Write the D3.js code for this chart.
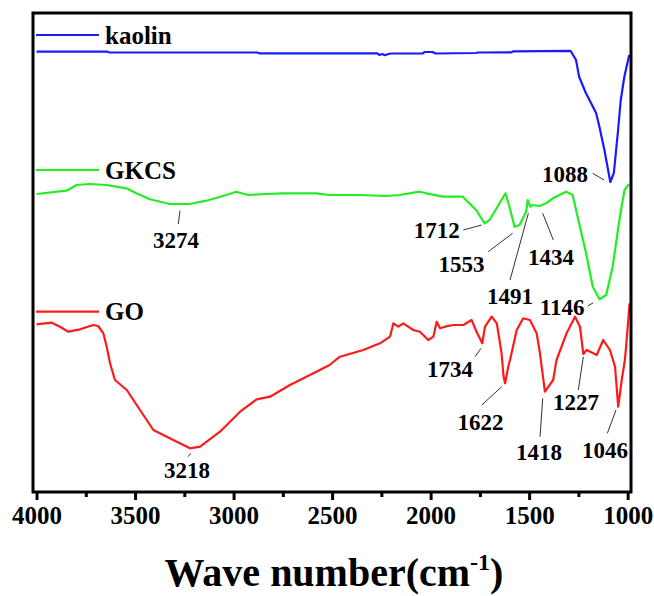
<!DOCTYPE html>
<html>
<head>
<meta charset="utf-8">
<script src="https://cdn.jsdelivr.net/npm/d3@7"></script>
<style>
  body { margin: 0; background: #fff; }
  svg text { font-family: "Times New Roman", "Liberation Serif", serif; font-weight: bold; }
</style>
</head>
<body>
<script>
// FTIR spectra : kaolin / GKCS / GO
var seriesNames = ['kaolin', 'GKCS', 'GO'];
var seriesColors = ['#1a1aff', '#22ee22', '#ff1a1a'];

var kaolinWave = [4000, 3640, 3630, 2880, 2870, 2270, 2260, 2245, 2232, 2215, 2200, 2040, 2030, 1990, 1975, 1770, 1760, 1590, 1580, 1290,
  1262, 1246, 1212, 1160, 1143, 1118, 1088, 1070, 1050, 1035, 1017, 992];
var kaolinT = [44.03, 44.03, 43.95, 43.95, 43.87, 43.87, 43.7, 43.8, 43.68, 43.8, 43.85, 43.87, 44.0, 44.0, 43.85, 43.9, 43.95, 43.97, 44.07, 44.12,
  43.2, 41.5, 39.9, 37.9, 36.5, 34.2, 31.0, 31.9, 35.9, 39.2, 41.5, 43.7];

var gkcsWave = [4000, 3848, 3797, 3730, 3645, 3544, 3493, 3425, 3324, 3223, 3138, 3037, 2986, 2927, 2834, 2749, 2580, 2513, 2361, 2225,
  2158, 2056, 2022, 1938, 1837, 1769, 1726, 1701, 1650, 1620, 1600, 1574, 1549, 1515, 1507, 1495, 1482, 1448, 1414, 1380,
  1312, 1279, 1254, 1211, 1177, 1143, 1109, 1076, 1042, 1016, 992];
var gkcsT = [29.8, 30.13, 30.7, 30.8, 30.7, 30.37, 29.87, 29.27, 28.8, 28.8, 29.13, 29.7, 30.03, 29.7, 29.8, 29.87, 29.87, 29.7, 29.7, 29.6,
  29.7, 30.03, 29.87, 29.53, 29.53, 28.2, 26.87, 27.2, 28.87, 29.87, 28.53, 26.53, 26.7, 28.03, 29.2, 28.53, 28.7, 28.6, 28.87, 29.37,
  30.03, 29.7, 27.53, 23.87, 20.53, 19.27, 19.7, 22.53, 27.2, 30.2, 30.8];

var goWave = [4000, 3923, 3881, 3839, 3779, 3712, 3687, 3661, 3644, 3627, 3602, 3542, 3475, 3407, 3306, 3221, 3170, 3069, 2967, 2883,
  2815, 2714, 2595, 2513, 2460, 2342, 2257, 2206, 2189, 2164, 2139, 2088, 2054, 2012, 1986, 1969, 1952, 1927, 1885, 1834,
  1792, 1767, 1738, 1724, 1690, 1664, 1640, 1630, 1622, 1606, 1597, 1563, 1530, 1496, 1462, 1445, 1420, 1378, 1361, 1310,
  1267, 1242, 1225, 1208, 1157, 1124, 1090, 1064, 1048, 1030, 1014, 1005, 990];
var goT = [16.77, 16.93, 16.53, 16.03, 16.27, 16.7, 16.6, 15.87, 14.53, 12.87, 11.2, 10.2, 8.2, 6.2, 5.2, 4.37, 4.53, 6.03, 8.03, 9.27,
  9.53, 10.7, 11.87, 12.7, 13.53, 14.2, 14.87, 15.53, 16.87, 16.53, 16.87, 16.2, 16.03, 15.2, 15.53, 17.03, 16.37, 16.53, 16.7, 16.7,
  17.2, 16.03, 14.87, 16.53, 17.53, 16.87, 13.9, 11.6, 10.87, 12.53, 13.2, 16.2, 17.37, 17.2, 15.87, 13.87, 10.03, 11.2, 13.2, 15.87,
  17.53, 16.53, 13.8, 14.2, 13.7, 15.2, 14.2, 12.53, 8.53, 11.2, 13.2, 15.2, 18.87];

var xTicks = [4000, 3500, 3000, 2500, 2000, 1500, 1000];
var xMinorTicks = [3750, 3250, 2750, 2250, 1750, 1250];

// peak marks: label, wave number and value where the leader touches the curve
var peakLabels = ['1088', '3274', '1712', '1553', '1434', '1491', '1146', '1734', '1622', '1418', '1227', '1046', '3218'];
var peakWave = [1120, 3272, 1741, 1584, 1431, 1504, 1174, 1744, 1639, 1431, 1225, 1059, 3218];
var peakT = [31.2, 28.13, 26.7, 25.87, 27.87, 27.87, 18.93, 14.37, 10.53, 9.37, 13.53, 8.2, 3.87];

// layout of the peak marks (pixel offsets from the tip): leader start, label centre
var peakLayout = [
  [-11.3, -6.7, -39, -6], [-1.7, 13.3, -4, 29.3], [-18.4, 5, -45, 5], [-24.4, 18.4, -51, 30.7],
  [10.6, 26.7, 8.3, 43.7], [-18.3, 66.7, -18.3, 82.7], [-5.6, 3.3, -31.3, 4.3], [-6, 8.4, -31, 20.7],
  [-20, 18.3, -21.2, 34.8], [-2.7, 38.4, -3.7, 53.7], [-5, 33.3, -7.3, 45.3], [-8.7, 23.3, -11, 40],
  [-2.4, 3.4, -3.7, 16.7]
];
var legendY = [35, 170, 311.7];

var svgWidth = 654, svgHeight = 596;
var plotLeft = 33, plotRight = 631, plotTop = 13, plotBottom = 492;

var svg = d3.select('body').append('svg').attr('width', svgWidth).attr('height', svgHeight);

var x = d3.scaleLinear().domain([4018, 983]).range([plotLeft, plotRight]);
var y = d3.scaleLinear().domain([0, 48]).range([plotBottom, plotTop - 1]);

var line = d3.line()
  .x(function (d) { return x(d[0]); })
  .y(function (d) { return y(d[1]); });

var series = [
  d3.zip(kaolinWave, kaolinT),
  d3.zip(gkcsWave, gkcsT),
  d3.zip(goWave, goT)
];

svg.selectAll('path.spec')
  .data(series)
  .enter()
  .append('path')
  .attr('class', 'spec')
  .attr('d', line)
  .attr('fill', 'none')
  .attr('stroke', function (d, i) { return seriesColors[i]; })
  .attr('stroke-width', 2.2)
  .attr('stroke-linejoin', 'round');

// legend
seriesNames.forEach(function (name, i) {
  svg.append('line')
    .attr('x1', 36).attr('x2', 99)
    .attr('y1', legendY[i]).attr('y2', legendY[i])
    .attr('stroke', seriesColors[i]).attr('stroke-width', 2.2);
  svg.append('text')
    .attr('x', 105).attr('y', legendY[i])
    .attr('dy', '0.35em')
    .attr('font-size', 25)
    .text(name);
});

// peak annotations
peakLabels.forEach(function (lab, i) {
  var tx = x(peakWave[i]), ty = y(peakT[i]);
  var L = peakLayout[i];
  svg.append('line')
    .attr('x1', tx + L[0]).attr('y1', ty + L[1])
    .attr('x2', tx).attr('y2', ty)
    .attr('stroke', '#333').attr('stroke-width', 1);
  svg.append('text')
    .attr('x', tx + L[2]).attr('y', ty + L[3])
    .attr('dy', '0.35em')
    .attr('text-anchor', 'middle')
    .attr('font-size', 23)
    .text(lab);
});

// frame
svg.append('rect')
  .attr('x', plotLeft).attr('y', plotTop)
  .attr('width', plotRight - plotLeft).attr('height', plotBottom - plotTop)
  .attr('fill', 'none').attr('stroke', '#000').attr('stroke-width', 3);

// x axis
var xAxis = d3.axisBottom(x).tickValues(xTicks).tickSize(8).tickSizeOuter(0).tickPadding(6)
  .tickFormat(d3.format('d'));
var gx = svg.append('g').attr('transform', 'translate(0,' + plotBottom + ')').call(xAxis);
gx.select('.domain').remove();
gx.selectAll('line').attr('stroke', '#000').attr('stroke-width', 3);
gx.selectAll('text').attr('font-size', 25).attr('fill', '#000')
  .style('font-family', '"Times New Roman", "Liberation Serif", serif').style('font-weight', 'bold');

var gm = svg.append('g').attr('transform', 'translate(0,' + plotBottom + ')')
  .call(d3.axisBottom(x).tickValues(xMinorTicks).tickSize(5).tickSizeOuter(0).tickFormat(''));
gm.select('.domain').remove();
gm.selectAll('line').attr('stroke', '#000').attr('stroke-width', 3);

// axis title
var title = svg.append('text')
  .attr('x', 334).attr('y', 586)
  .attr('text-anchor', 'middle')
  .attr('font-size', 40);
title.append('tspan').text('Wave number(cm');
title.append('tspan').attr('font-size', 24).attr('dy', -16).text('-1');
title.append('tspan').attr('dy', 16).text(')');
</script>
</body>
</html>
